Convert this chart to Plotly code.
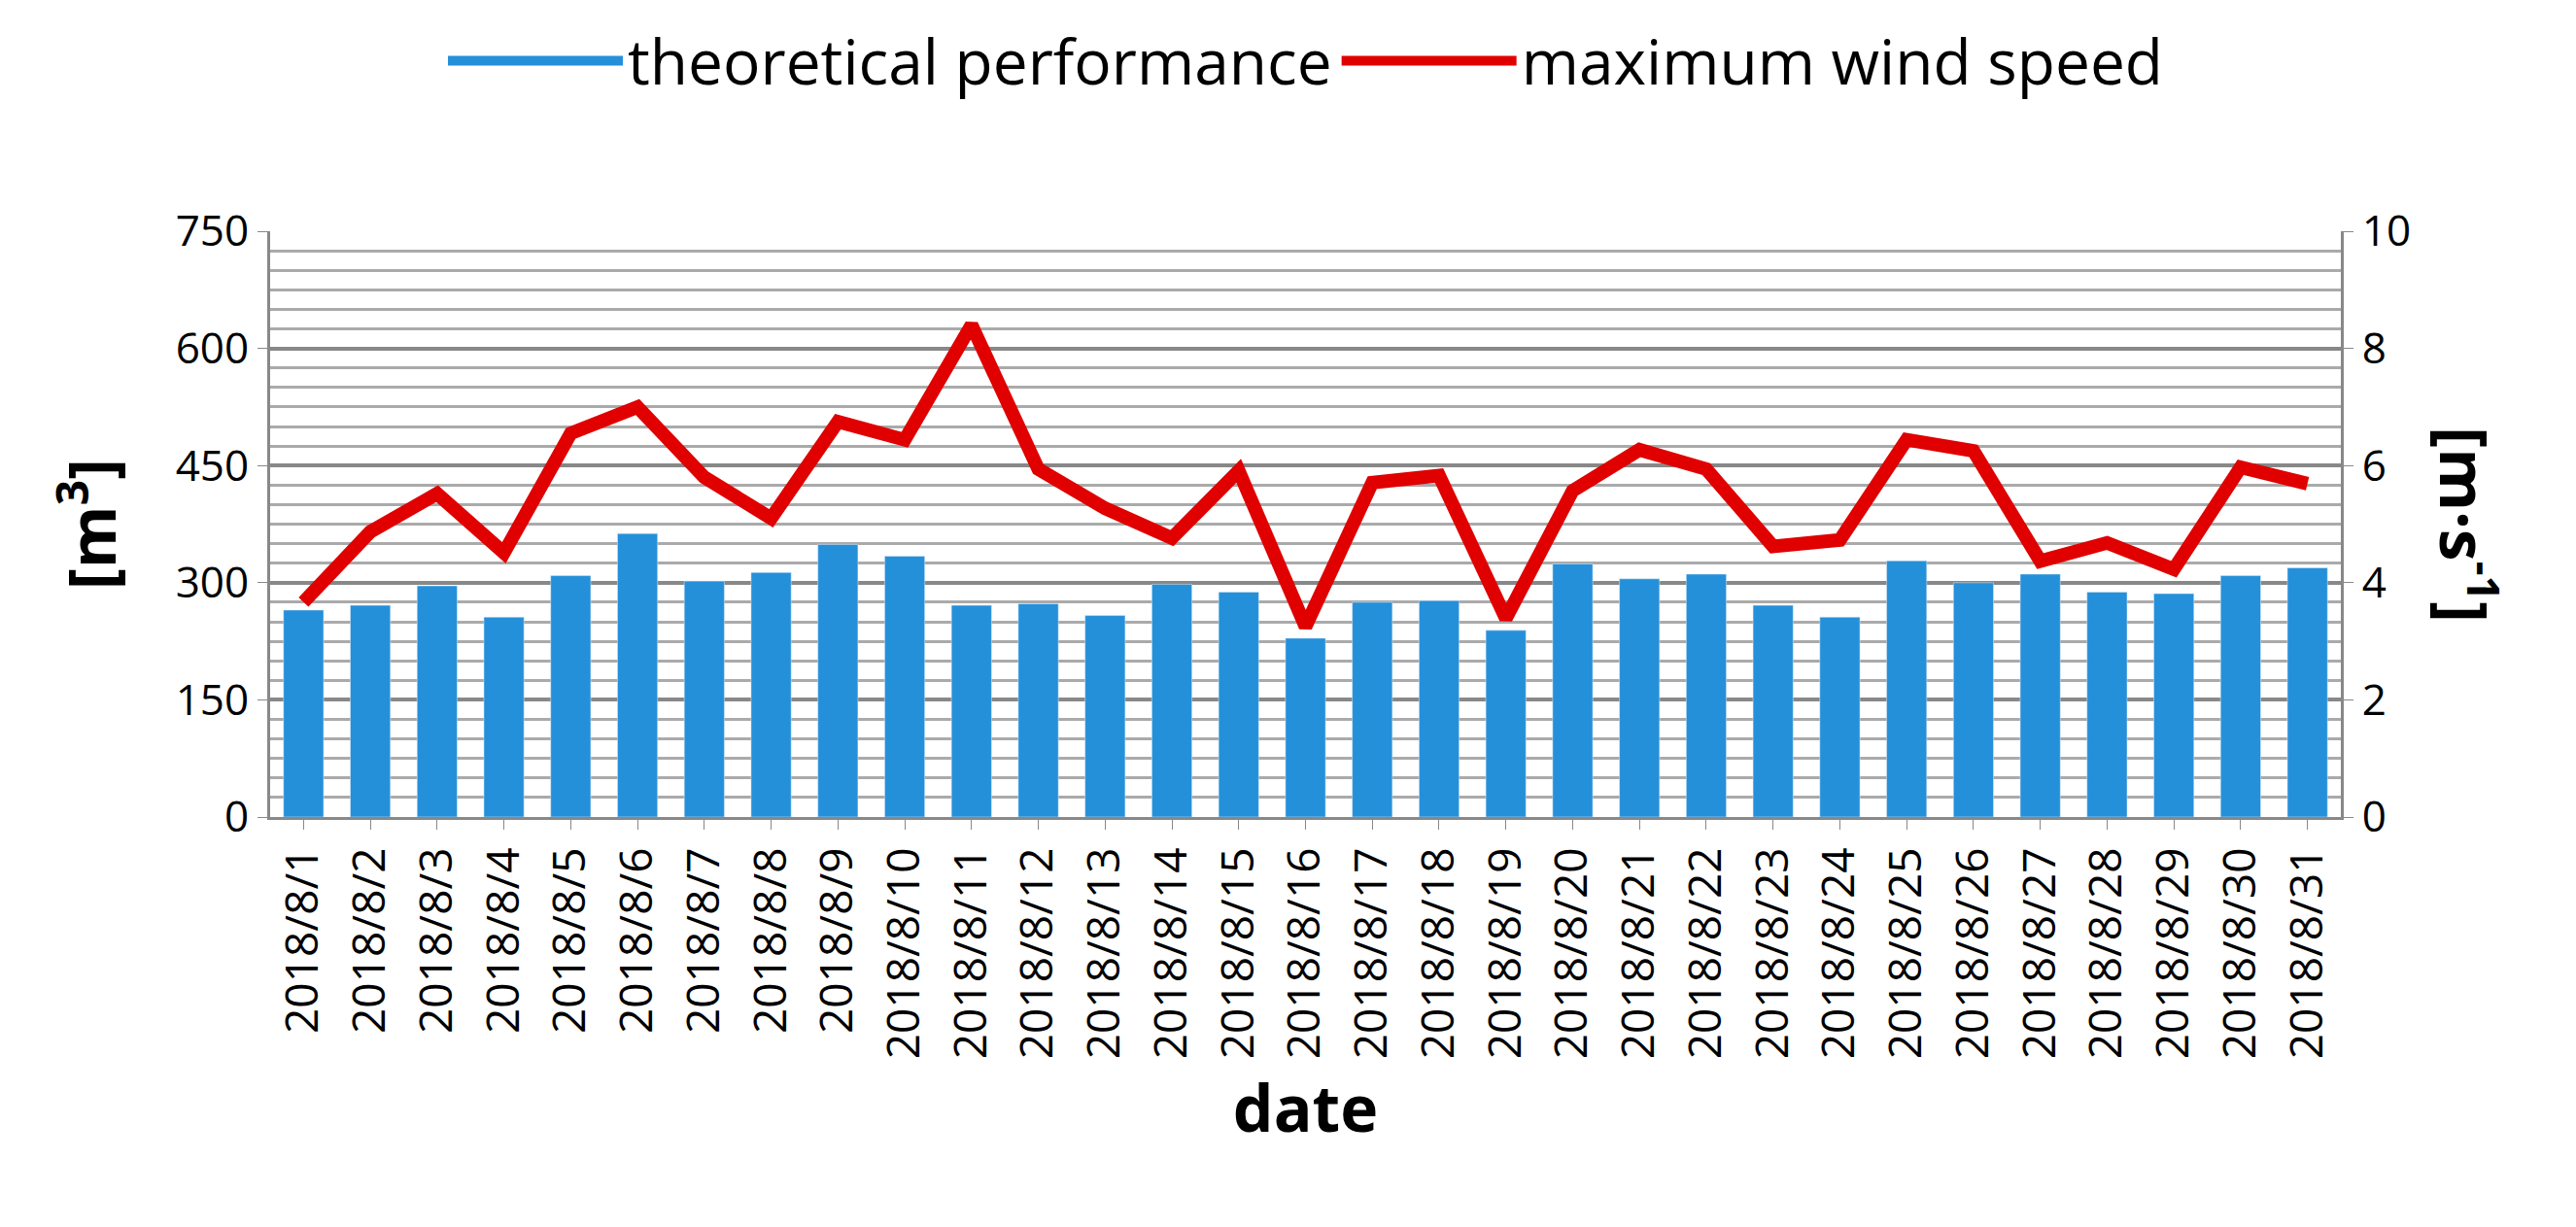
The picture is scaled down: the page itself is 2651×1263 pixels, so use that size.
import plotly.graph_objects as go

dates = [f"2018/8/{d}" for d in range(1, 32)]
performance = [265, 271, 296, 256, 309, 363, 302, 313, 349, 334, 271, 273, 258, 298, 288,
               229, 275, 277, 239, 324, 305, 311, 271, 256, 328, 300, 311, 288, 286, 309, 319]
wind = [3.67, 4.87, 5.52, 4.51, 6.55, 7.0, 5.8, 5.1, 6.75, 6.44, 8.4, 5.94, 5.27, 4.76, 5.91,
        3.25, 5.71, 5.83, 3.39, 5.57, 6.27, 5.94, 4.62, 4.73, 6.44, 6.25, 4.37, 4.68, 4.23, 5.97, 5.69]

F = "Open Sans"
BLUE = "#2590DA"
fig = go.Figure()
fig.add_trace(go.Bar(x=dates, y=performance, name="theoretical performance",
                     marker_color=BLUE, width=0.6, showlegend=False))
# legend entry drawn as a thick swatch like the reference
fig.add_trace(go.Scatter(x=[None], y=[None], name="theoretical performance",
                         mode="lines", line=dict(color=BLUE, width=30)))
fig.add_trace(go.Scatter(x=dates, y=wind, name="maximum wind speed", yaxis="y2",
                         mode="lines", line=dict(color="#E00000", width=14)))

fig.update_layout(
    width=2651, height=1263, plot_bgcolor="white", paper_bgcolor="white",
    margin=dict(l=270, r=250, t=230, b=430, autoexpand=False),
    font=dict(family=F, size=40, color="black"),
    legend=dict(orientation="h", x=0.5, xanchor="center", y=0.995, yanchor="top",
                yref="container", font=dict(size=64), itemwidth=180, traceorder="normal"),
    bargap=0.4,
    xaxis=dict(tickangle=-90, showline=True, linecolor="#888", linewidth=3,
               ticks="outside", tickcolor="#888", ticklen=10, tickfont=dict(size=46),
               title=dict(text="<b>date</b>", font=dict(size=66), standoff=30)),
    yaxis=dict(range=[0, 750], dtick=150, showline=True, linecolor="#888", linewidth=3,
               ticks="outside", tickcolor="#888", ticklen=10,
               gridcolor="#888", gridwidth=4,
               minor=dict(dtick=25, showgrid=True, gridcolor="#aaa", gridwidth=3),
               tickfont=dict(size=44),
               title=dict(text="<b>[m<sup>3</sup>]</b>", font=dict(size=66), standoff=40)),
    yaxis2=dict(range=[0, 10], dtick=2, overlaying="y", side="right", showgrid=False,
                showline=True, linecolor="#888", linewidth=3, ticks="outside",
                tickcolor="#888", ticklen=10, tickfont=dict(size=44)),
    annotations=[dict(text="<b>[m·s<sup>-1</sup>]</b>", xref="paper", yref="paper",
                      x=1.085, y=0.5, textangle=90, showarrow=False, font=dict(size=66))],
)
fig.write_html("out.html")
